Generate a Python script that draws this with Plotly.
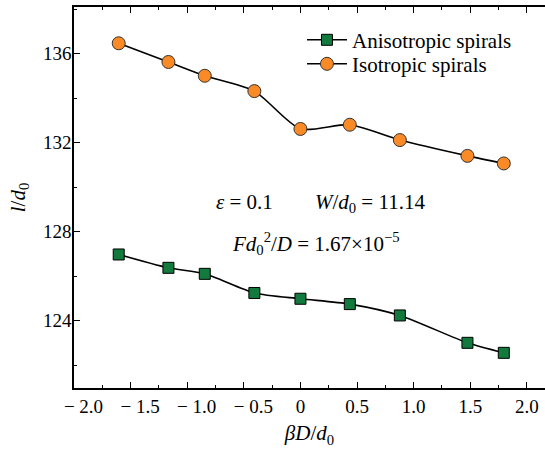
import plotly.graph_objects as go

# ---- data ----
beta_D = [-1.605, -1.166, -0.845, -0.407, 0.0, 0.436, 0.878, 1.475, 1.796]
aniso_l = [126.97, 126.37, 126.10, 125.24, 124.98, 124.74, 124.23, 123.00, 122.55]
iso_l = [136.46, 135.62, 135.00, 134.31, 132.61, 132.80, 132.11, 131.40, 131.06]

x_tickvals = [-2.0, -1.5, -1.0, -0.5, 0.0, 0.5, 1.0, 1.5, 2.0]
x_ticktext = ["\u2003\u2212\u20052.0", "\u2003\u2212\u20051.5", "\u2003\u2212\u20051.0",
              "\u2003\u2212\u20050.5", "0", "0.5", "1.0", "1.5", "2.0"]
y_tickvals = [124, 128, 132, 136]
y_ticktext = ["124", "128", "132", "136"]

FONT = "Liberation Serif"

fig = go.Figure()
fig.add_trace(go.Scatter(
    x=beta_D, y=aniso_l, mode="lines+markers", name="Anisotropic spirals", legend="legend",
    line=dict(color="black", width=1.6, shape="spline", smoothing=0.7),
    marker=dict(symbol="square", size=11, color="#117A3C", line=dict(color="black", width=1)),
))
fig.add_trace(go.Scatter(
    x=beta_D, y=iso_l, mode="lines+markers", name="Isotropic spirals", legend="legend2",
    line=dict(color="black", width=1.6, shape="spline", smoothing=0.7),
    marker=dict(symbol="circle", size=13, color="#F98A26", line=dict(color="#333333", width=1)),
))

axis_common = dict(showline=True, linecolor="black", linewidth=1.5, ticks="inside",
                   tickcolor="black", tickwidth=1.2, ticklen=6, showgrid=False, zeroline=False,
                   automargin=False,
                   tickfont=dict(family=FONT, size=19, color="black"))

leg_common = dict(xanchor="left", yanchor="middle", bgcolor="rgba(0,0,0,0)",
                  font=dict(family=FONT, size=21, color="black"), itemwidth=40)

fig.update_layout(
    width=545, height=450,
    margin=dict(l=74, r=0, t=7, b=62, autoexpand=False),
    plot_bgcolor="white", paper_bgcolor="white",
    font=dict(family=FONT, size=19, color="black"),
    showlegend=True,
    legend=dict(x=0.484, y=0.913, **leg_common),
    legend2=dict(x=0.484, y=0.850, **leg_common),
    xaxis=dict(range=[-2.0, 2.16], tickmode="array", tickvals=x_tickvals, ticktext=x_ticktext,
               mirror="ticks", tickangle=0,
               minor=dict(ticks="inside", ticklen=3.5, tickcolor="black", tickwidth=1.2,
                          tickmode="linear", tick0=0, dtick=0.25),
               title=dict(text="<i>\u03b2D</i>/<i>d</i><sub>0</sub>", font=dict(family=FONT, size=21), standoff=10),
               **axis_common),
    yaxis=dict(range=[120.97, 138.09], tickmode="array", tickvals=y_tickvals, ticktext=y_ticktext,
               mirror=False, ticklabelstandoff=-3,
               minor=dict(ticks="inside", ticklen=3.5, tickcolor="black", tickwidth=1.2,
                          tickmode="linear", tick0=0, dtick=2),
               title=dict(text="<i>l</i>/<i>d</i><sub>0</sub>", font=dict(family=FONT, size=21), standoff=12),
               **axis_common),
    yaxis2=dict(range=[120.97, 138.09], overlaying="y", side="right", anchor="x",
                showline=False, ticks="inside", tickcolor="black", tickwidth=1.2, ticklen=6,
                tickmode="array", tickvals=y_tickvals, showticklabels=False, showgrid=False,
                zeroline=False, automargin=False,
                minor=dict(ticks="inside", ticklen=3.5, tickcolor="black", tickwidth=1.2,
                           tickmode="linear", tick0=0, dtick=2)),
)

fig.add_annotation(x=0.175, y=129.3, xref="x", yref="y", showarrow=False,
                   text="<i>\u03b5</i> = 0.1\u2003\u2003<i>W</i>/<i>d</i><sub>0</sub> = 11.14",
                   font=dict(family=FONT, size=21))
fig.add_annotation(x=0.14, y=127.45, xref="x", yref="y", showarrow=False,
                   text="<i>Fd</i><sub>0</sub><sup>2</sup>/<i>D</i> = 1.67\u00d710<sup>\u22125</sup>",
                   font=dict(family=FONT, size=21))

fig.write_html("out.html", post_script="document.body.style.margin='0';",
               config={"displayModeBar": False})
